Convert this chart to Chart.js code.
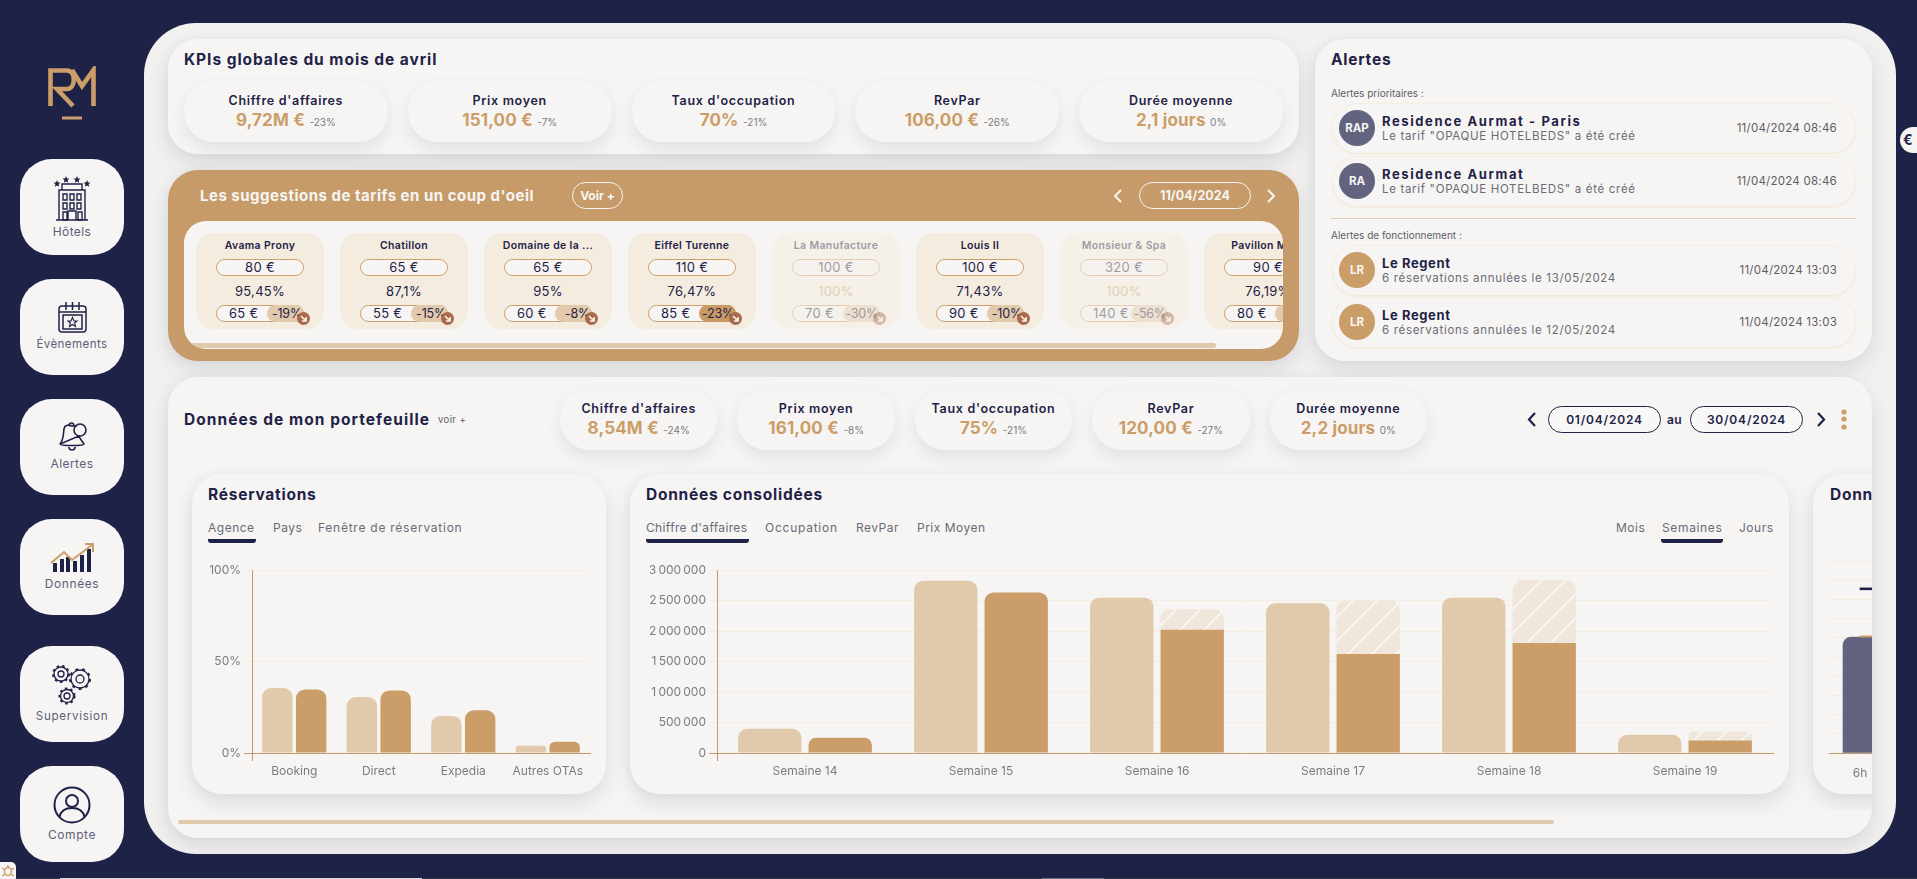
<!DOCTYPE html>
<html lang="fr">
<head>
<meta charset="utf-8">
<title>Tableau de bord</title>
<script src="https://cdn.jsdelivr.net/npm/chart.js@4/dist/chart.umd.min.js"></script>
<style>
    * { box-sizing: border-box; margin: 0; padding: 0; }
    html, body { width: 1917px; height: 879px; overflow: hidden; background: #1f2247; }
    body { font-family: Inter, "Noto Sans", sans-serif; color: #1f2247; position: relative; }
    .abs { position: absolute; }
    .panel { position: absolute; left: 144px; top: 23px; width: 1752px; height: 831px; background: #f2f1f0; border-radius: 52px; }
    .card { position: absolute; background: #f6f5f3; border-radius: 30px; box-shadow: 0 9px 20px rgba(60, 60, 85, .13), -3px 0 10px rgba(60, 60, 85, .03); }
    .title { position: absolute; font-weight: 700; font-size: 15.5px; letter-spacing: .75px; white-space: nowrap; line-height: 18px; }
    .nav { position: absolute; left: 20px; width: 104px; height: 96px; background: #f6f5f3; border-radius: 32px; text-align: center; }
    .nav svg { position: absolute; left: 0; top: 0; }
    .nav span { position: absolute; left: 0; right: 0; font-size: 12px; color: #5d5e78; letter-spacing: .4px; line-height: 14px; }
    .pills { position: absolute; display: flex; gap: 20px; height: 61px; }
    .pill { flex: 1; background: #f6f5f3; border-radius: 30px; text-align: center; box-shadow: 0 7px 16px rgba(60, 60, 85, .1); padding-top: 11px; }
    .pill b { display: block; font-size: 12.5px; font-weight: 600; letter-spacing: .7px; line-height: 17px; }
    .pill strong { font-size: 17px; font-weight: 700; color: #cb9e69; line-height: 22px; letter-spacing: .15px; }
    .pill small { font-size: 10px; color: #7b7b86; }
    .outline { position: absolute; border-radius: 14px; text-align: center; white-space: nowrap; }
    .hotel { width: 128px; height: 96px; flex: none; background: #f3ecdf; border-radius: 18px; position: relative; text-align: center; font-size: 13px; font-weight: 400; letter-spacing: .3px; }
    .hotel.faded > * { opacity: .42; }
    .hotel.faded { background: #f5f1e9; }
    .hotel .name { position: absolute; left: 0; right: 0; top: 6px; font-size: 10.5px; font-weight: 600; line-height: 14px; white-space: nowrap; letter-spacing: .35px; }
    .hotel .price { position: absolute; left: 20px; width: 88px; top: 26px; height: 17px; line-height: 15px; background: #f6f5f3; border: 1px solid #cf9f6b; border-radius: 9px; }
    .hotel .occ { position: absolute; left: 0; right: 0; top: 50px; line-height: 17px; }
    .hotel .sugg { position: absolute; left: 20px; width: 88px; top: 72px; height: 17px; line-height: 15px; background: #f6f5f3; border: 1px solid #cf9f6b; border-radius: 9px; text-align: left; }
    .hotel .sugg i { font-style: normal; position: absolute; left: 12px; }
    .hotel .sugg em { font-style: normal; position: absolute; right: -1px; top: -1px; width: 37px; height: 17px; line-height: 17px; background: #e3c9ab; border-radius: 9px; text-align: right; padding-right: 2px; font-size: 12.5px; letter-spacing: -.2px; }
    .hotel .sugg em.strong { background: #c99a63; }
    .hotel .arrow { position: absolute; left: 101px; top: 79px; width: 13px; height: 13px; border-radius: 50%; background: #a9694a; }
    .alert-title { position: absolute; left: 1331px; font-size: 10px; color: #5d5e68; line-height: 12px; }
    .alert { position: absolute; left: 1333px; width: 522px; height: 49px; background: #f6f5f3; border-radius: 24px; box-shadow: 0 1px 3px #f3e6d2, 0 0 0 1px #f5efe4; }
    .alert .avatar { position: absolute; left: 6px; top: 6px; width: 36px; height: 36px; border-radius: 50%; color: #f6f5f3; font-size: 11.5px; font-weight: 700; line-height: 36px; text-align: center; }
    .alert b { position: absolute; left: 49px; top: 10px; font-size: 13px; font-weight: 700; letter-spacing: .6px; line-height: 15px; white-space: nowrap; }
    .alert b.long { letter-spacing: 1.6px; }
    .alert span { position: absolute; left: 49px; top: 25px; font-size: 11.5px; color: #6a6b78; letter-spacing: .68px; line-height: 15px; white-space: nowrap; }
    .alert time { position: absolute; right: 18px; top: 17px; font-size: 11.5px; color: #5d5e68; letter-spacing: .25px; line-height: 15px; }
    .tab { position: absolute; top: 520px; font-size: 12px; color: #6a6b78; letter-spacing: .5px; line-height: 16px; white-space: nowrap; }
    .line { position: absolute; height: 4px; top: 539px; background: #1f2247; border-radius: 0 0 3px 3px; }
    .chart { position: absolute; }
</style>
</head>
<body>
<div class="panel"></div>

<!-- Logo -->
<svg class="abs" style="left:46px;top:66px" width="54" height="56" viewBox="0 0 54 56" fill="none" stroke="#cb9e69" stroke-width="4.6">
    <path d="M4.5 40V4.5H21C30 4.5 30 23 21 23H11L27 40"/>
    <path d="M26 4L36 20L47.5 4V40" />
    <path d="M16 52H36" stroke-width="3"/>
</svg>

<!-- Menu -->
<div class="nav" style="top:159px">
    <svg width="104" height="66" viewBox="0 0 104 66" fill="none" stroke="#1f2247" stroke-width="1.4">
        <path d="M36 61H68M39 61V31H65V61M42 31V25H62V31"/>
        <path d="M43 35h4v6h-4zM50 35h4v6h-4zM57 35h4v6h-4zM43 44h4v6h-4zM50 44h4v6h-4zM57 44h4v6h-4zM43 53h4v8h-4zM48 61V52h8v9M58 53h4v8h-4z"/>
        <g fill="#1f2247" stroke="none"><path d="M37 21l1 2.4 2.5.2-1.9 1.6.6 2.5-2.2-1.3-2.2 1.3.6-2.5-1.9-1.6 2.5-.2zM46 17l1 2.4 2.5.2-1.9 1.6.6 2.5-2.2-1.3-2.2 1.3.6-2.5-1.9-1.6 2.5-.2zM57 17l1 2.4 2.5.2-1.9 1.6.6 2.5-2.2-1.3-2.2 1.3.6-2.5-1.9-1.6 2.5-.2zM67 21l1 2.4 2.5.2-1.9 1.6.6 2.5-2.2-1.3-2.2 1.3.6-2.5-1.9-1.6 2.5-.2z"/></g>
    </svg>
    <span style="top:66px">Hôtels</span>
</div>
<div class="nav" style="top:279px">
    <svg width="104" height="60" viewBox="0 0 104 60" fill="none" stroke="#1f2247" stroke-width="1.5">
        <rect x="39" y="27" width="27" height="26" rx="3"/>
        <path d="M39 33H66M46 23V31M52.5 23V31M59 23V31"/>
        <rect x="43" y="36" width="19" height="14"/>
        <path d="M52.5 38.5L54 42H57L54.6 44L55.5 47.5L52.5 45.5L49.5 47.5L50.4 44L48 42H51Z" stroke-width="1.1"/>
    </svg>
    <span style="top:58px;font-size:11.6px">Évènements</span>
</div>
<div class="nav" style="top:399px">
    <svg width="104" height="60" viewBox="0 0 104 60" fill="none" stroke="#1f2247" stroke-width="1.6">
        <path d="M40 45C44 40 43 36 44 30C45 24 50 27 53 27C55 27 56 27 57 27M59 37C60 40 62 42 64 45C64 47 40 47 40 45ZM49 48C49 52 55 52 55 48M49 27C49 23 54 23 54 27"/>
        <circle cx="60" cy="31" r="6"/>
    </svg>
    <span style="top:58px">Alertes</span>
</div>
<div class="nav" style="top:519px">
    <svg width="104" height="60" viewBox="0 0 104 60">
        <g fill="#1f2247"><rect x="33" y="44" width="4" height="9"/><rect x="40" y="40" width="4" height="13"/><rect x="46" y="38" width="4" height="15"/><rect x="53" y="42" width="4" height="11"/><rect x="60" y="36" width="4" height="17"/><rect x="67" y="30" width="4" height="23"/></g>
        <path d="M31 44L44 33L52 41L72 26M65 25H73V33" fill="none" stroke="#cb9e69" stroke-width="2"/>
    </svg>
    <span style="top:58px;letter-spacing:.6px">Données</span>
</div>
<div class="nav" style="top:646px">
    <svg width="104" height="60" viewBox="0 0 104 60" fill="none" stroke="#1f2247" stroke-width="1.3">
        <circle cx="41" cy="28" r="3"/><circle cx="41" cy="28" r="7"/><circle cx="41" cy="28" r="8" stroke-width="2" stroke-dasharray="2.5 3"/>
        <circle cx="60" cy="33" r="4"/><circle cx="60" cy="33" r="9"/><circle cx="60" cy="33" r="10" stroke-width="2" stroke-dasharray="3 4"/>
        <circle cx="47" cy="50" r="3"/><circle cx="47" cy="50" r="6.5"/><circle cx="47" cy="50" r="7.5" stroke-width="2" stroke-dasharray="2.5 3"/>
    </svg>
    <span style="top:63px;font-size:11.6px;letter-spacing:.7px">Supervision</span>
</div>
<div class="nav" style="top:766px">
    <svg width="104" height="60" viewBox="0 0 104 60" fill="none" stroke="#1f2247" stroke-width="2">
        <circle cx="52" cy="39" r="17.5"/><circle cx="52" cy="35" r="6"/>
        <path d="M39.5 51C41 44 46 42 52 42C58 42 63 44 64.5 51"/>
    </svg>
    <span style="top:62px;letter-spacing:.6px">Compte</span>
</div>

<!-- KPIs globales -->
<div class="card" style="left:168px;top:39px;width:1131px;height:115px"></div>
<div class="title" style="left:184px;top:51px;letter-spacing:.95px">KPIs globales du mois de avril</div>
<div class="pills" id="kpiGlobal" style="left:184px;top:81px;width:1099px"></div>

<!-- Suggestions -->
<div class="card" style="left:168px;top:170px;width:1131px;height:191px;background:#c69b69"></div>
<div class="title" style="left:200px;top:187px;color:#f6f5f3;font-size:15px;letter-spacing:.5px">Les suggestions de tarifs en un coup d'oeil</div>
<div class="outline" style="left:572px;top:182px;width:51px;height:27px;border:1px solid #f6f5f3;color:#f6f5f3;font-size:12px;font-weight:700;line-height:25px">Voir +</div>
<svg class="abs" style="left:1112px;top:188px" width="14" height="16" fill="none" stroke="#f6f5f3" stroke-width="2"><path d="M9 2L3 8L9 14"/></svg>
<div class="outline" style="left:1139px;top:182px;width:112px;height:27px;border:1px solid #f6f5f3;color:#f6f5f3;font-size:12.5px;font-weight:700;line-height:25px">11/04/2024</div>
<svg class="abs" style="left:1264px;top:188px" width="14" height="16" fill="none" stroke="#f6f5f3" stroke-width="2"><path d="M4 2L10 8L4 14"/></svg>
<div class="abs" style="left:184px;top:221px;width:1099px;height:128px;background:#f6f5f3;border-radius:22px;overflow:hidden">
    <div id="hotels" class="abs" style="left:12px;top:12px;display:flex;gap:16px"></div>
    <div class="abs" style="left:-6px;top:122px;width:1038px;height:5px;background:#e1c9ac;border-radius:3px"></div>
</div>

<!-- Alertes -->
<div class="card" style="left:1315px;top:39px;width:557px;height:322px"></div>
<div class="title" style="left:1331px;top:51px">Alertes</div>
<div class="alert-title" style="top:87px">Alertes prioritaires :</div>
<div id="alertsTop"></div>
<div class="abs" style="left:1331px;top:218px;width:525px;height:1px;background:#e1c9ac"></div>
<div class="alert-title" style="top:229px">Alertes de fonctionnement :</div>
<div id="alertsBottom"></div>

<!-- Portefeuille -->
<div class="card" style="left:168px;top:377px;width:1704px;height:461px"></div>
<div class="title" style="left:184px;top:411px;letter-spacing:1.05px">Données de mon portefeuille</div>
<div class="abs" style="left:438px;top:414px;font-size:9.5px;color:#5d5e68;letter-spacing:.4px">voir +</div>
<div class="pills" id="kpiFolio" style="left:560px;top:389px;width:867px"></div>
<svg class="abs" style="left:1525px;top:411px" width="14" height="17" fill="none" stroke="#1f2247" stroke-width="2.2"><path d="M10 2L4 8.5L10 15"/></svg>
<div class="outline" style="left:1548px;top:406px;width:113px;height:27px;border:1px solid #1f2247;background:#f8f8f7;font-size:12px;font-weight:600;letter-spacing:.8px;line-height:25px">01/04/2024</div>
<div class="abs" style="left:1667px;top:412px;font-size:12px;font-weight:600;letter-spacing:.4px;line-height:15px">au</div>
<div class="outline" style="left:1690px;top:406px;width:113px;height:27px;border:1px solid #1f2247;background:#f8f8f7;font-size:12px;font-weight:600;letter-spacing:.8px;line-height:25px">30/04/2024</div>
<svg class="abs" style="left:1814px;top:411px" width="14" height="17" fill="none" stroke="#1f2247" stroke-width="2.2"><path d="M4 2L10 8.5L4 15"/></svg>
<svg class="abs" style="left:1841px;top:408px" width="6" height="22" fill="#cb9e69"><circle cx="3" cy="4" r="2.6"/><circle cx="3" cy="11" r="2.6"/><circle cx="3" cy="19" r="2.6"/></svg>

<!-- Réservations -->
<div class="card" style="left:192px;top:474px;width:414px;height:320px"></div>
<div class="title" style="left:208px;top:486px">Réservations</div>
<div class="tab" style="left:208px">Agence</div>
<div class="tab" style="left:273px">Pays</div>
<div class="tab" style="left:318px;letter-spacing:.75px">Fenêtre de réservation</div>
<div class="line" style="left:208px;width:48px"></div>
<div class="chart" style="left:200px;top:560px;width:400px;height:225px"><canvas id="reservations"></canvas></div>

<!-- Données consolidées -->
<div class="card" style="left:630px;top:474px;width:1159px;height:320px"></div>
<div class="title" style="left:646px;top:486px">Données consolidées</div>
<div class="tab" style="left:646px;letter-spacing:.35px">Chiffre d'affaires</div>
<div class="tab" style="left:765px;letter-spacing:.75px">Occupation</div>
<div class="tab" style="left:856px">RevPar</div>
<div class="tab" style="left:917px">Prix Moyen</div>
<div class="line" style="left:646px;width:103px"></div>
<div class="tab" style="left:1616px">Mois</div>
<div class="tab" style="left:1662px;letter-spacing:.65px">Semaines</div>
<div class="tab" style="left:1739px">Jours</div>
<div class="line" style="left:1661px;width:62px"></div>
<div class="chart" style="left:650px;top:560px;width:1133px;height:225px"><canvas id="consolidees"></canvas></div>

<!-- Carte suivante coupée par le défilement -->
<div class="abs" style="left:1795px;top:460px;width:77px;height:350px;overflow:hidden">
    <div class="card" style="left:18px;top:14px;width:300px;height:320px"></div>
    <div class="title" style="left:35px;top:26px">Données</div>
    <div class="chart" style="left:34px;top:92px;width:62px;height:233px"><canvas id="horaires"></canvas></div>
</div>

<div class="abs" style="left:178px;top:820px;width:1376px;height:4px;background:#e1c9ac;border-radius:2px"></div>

<div class="abs" style="left:1900px;top:127px;width:30px;height:26px;background:#f6f5f3;border-radius:13px;font-size:14px;font-weight:700;line-height:26px;padding-left:3px">€</div>
<div class="abs" style="left:0;top:862px;width:16px;height:17px;background:#f6f5f3;border-radius:0 5px 0 0">
    <svg width="16" height="17" fill="none" stroke="#cb9e69" stroke-width="1.4"><ellipse cx="8" cy="9.5" rx="3.5" ry="4"/><path d="M8 3V5M2 6L5 8M14 6L11 8M2 14L5 12M14 14L11 12"/></svg>
</div>
<div class="abs" style="left:16px;top:878px;width:1901px;height:1px;background:#33354f"></div>
<div class="abs" style="left:60px;top:878px;width:362px;height:1px;background:#d9d8e0"></div>
<div class="abs" style="left:1042px;top:878px;width:62px;height:1px;background:#6d6e84"></div>

<script>
// KPI
const kpiLabels = ["Chiffre d'affaires", 'Prix moyen', "Taux d'occupation", 'RevPar', 'Durée moyenne'];
const kpiGlobalValues = ['9,72M €', '151,00 €', '70%', '106,00 €', '2,1 jours'];
const kpiGlobalDeltas = ['-23%', '-7%', '-21%', '-26%', '0%'];
const kpiFolioValues = ['8,54M €', '161,00 €', '75%', '120,00 €', '2,2 jours'];
const kpiFolioDeltas = ['-24%', '-8%', '-21%', '-27%', '0%'];

// Suggestions de tarifs
const hotelNames = ['Avama Prony', 'Chatillon', 'Domaine de la ...', 'Eiffel Turenne', 'La Manufacture', 'Louis II', 'Monsieur & Spa', 'Pavillon Mo...'];
const hotelPrices = ['80 €', '65 €', '65 €', '110 €', '100 €', '100 €', '320 €', '90 €'];
const hotelOccupancy = ['95,45%', '87,1%', '95%', '76,47%', '100%', '71,43%', '100%', '76,19%'];
const hotelSuggested = ['65 €', '55 €', '60 €', '85 €', '70 €', '90 €', '140 €', '80 €'];
const hotelDeltas = ['-19%', '-15%', '-8%', '-23%', '-30%', '-10%', '-56%', '-11%'];
const hotelFaded = [false, false, false, false, true, false, true, false];

// Alertes
const alertInitials = ['RAP', 'RA', 'LR', 'LR'];
const alertNames = ['Residence Aurmat - Paris', 'Residence Aurmat', 'Le Regent', 'Le Regent'];
const alertTexts = ['Le tarif "OPAQUE HOTELBEDS" a été créé', 'Le tarif "OPAQUE HOTELBEDS" a été créé', '6 réservations annulées le 13/05/2024', '6 réservations annulées le 12/05/2024'];
const alertDates = ['11/04/2024 08:46', '11/04/2024 08:46', '11/04/2024 13:03', '11/04/2024 13:03'];

// Réservations
const agences = ['Booking', 'Direct', 'Expedia', 'Autres OTAs'];
const agencesN1 = [35.5, 30.6, 20.3, 4];
const agencesN = [34.8, 34.2, 23.4, 6.2];

// Données consolidées
const semaines = ['Semaine 14', 'Semaine 15', 'Semaine 16', 'Semaine 17', 'Semaine 18', 'Semaine 19'];
const caN1 = [397000, 2826000, 2549000, 2457000, 2549000, 299000];
const caRealise = [250000, 2636000, 2022000, 1625000, 1804000, 206000];
const caPrevision = [0, 0, 337000, 875000, 1038000, 147000];

// Données horaires (seule la première tranche est visible)
const tranches = ['6h'];
const trancheN1 = [60.4];
const trancheN = [60];
const trancheRepere = [1];
const trancheEcart = [24];
const trancheMax = [1];

const tan = '#cb9e69';
const lightTan = '#e1c9ac';
const axisTan = '#c49a68';
const gridColor = '#f5eddd';
const slate = '#62637f';
const tickColor = '#7b7b86';

const kpiHtml = (values, deltas) => kpiLabels.map((label, i) =>
    `<div class="pill"><b>${label}</b><strong>${values[i]}</strong> <small>${deltas[i]}</small></div>`).join('');
document.getElementById('kpiGlobal').innerHTML = kpiHtml(kpiGlobalValues, kpiGlobalDeltas);
document.getElementById('kpiFolio').innerHTML = kpiHtml(kpiFolioValues, kpiFolioDeltas);

document.getElementById('hotels').innerHTML = hotelNames.map((name, i) => `
    <div class="hotel${hotelFaded[i] ? ' faded' : ''}">
        <div class="name">${name}</div>
        <div class="price">${hotelPrices[i]}</div>
        <div class="occ"${hotelFaded[i] ? ' style="color:#cb9e69"' : ''}>${hotelOccupancy[i]}</div>
        <div class="sugg"><i>${hotelSuggested[i]}</i><em${name === 'Eiffel Turenne' ? ' class="strong"' : ''}>${hotelDeltas[i]}</em></div>
        <div class="arrow"><svg width="13" height="13" fill="none" stroke="#f6f5f3" stroke-width="1.6"><path d="M4 4L9 9M9 5V9H5"/></svg></div>
    </div>`).join('');

const alertHtml = (i, top, color) => `
    <div class="alert" style="top:${top}px">
        <div class="avatar" style="background:${color}">${alertInitials[i]}</div>
        <b${alertNames[i].startsWith('Residence') ? ' class="long"' : ''}>${alertNames[i]}</b><span>${alertTexts[i]}</span><time>${alertDates[i]}</time>
    </div>`;
document.getElementById('alertsTop').innerHTML = alertHtml(0, 104, slate) + alertHtml(1, 157, slate);
document.getElementById('alertsBottom').innerHTML = alertHtml(2, 246, tan) + alertHtml(3, 298, tan);

// Motif hachuré pour la part prévisionnelle
const hatch = () => {
    const tile = document.createElement('canvas');
    tile.width = tile.height = 24;
    const c = tile.getContext('2d');
    c.fillStyle = '#f0e6dc';
    c.fillRect(0, 0, 24, 24);
    c.strokeStyle = '#f9f7f4';
    c.lineWidth = 1.6;
    c.beginPath();
    c.moveTo(-6, 30); c.lineTo(30, -6);
    c.moveTo(-6, 6); c.lineTo(6, -6);
    c.moveTo(18, 30); c.lineTo(30, 18);
    c.stroke();
    return c.createPattern(tile, 'repeat');
};

Chart.defaults.font.family = 'Inter, "Noto Sans", sans-serif';
Chart.defaults.font.size = 12;
Chart.defaults.color = tickColor;
Chart.defaults.animation = false;
Chart.defaults.plugins.legend.display = false;
Chart.defaults.plugins.tooltip.enabled = false;
Chart.defaults.responsive = true;
Chart.defaults.maintainAspectRatio = false;

const topRadius = { topLeft: 9, topRight: 9, bottomLeft: 0, bottomRight: 0 };

const xAxis = (stacked) => ({
    stacked: stacked,
    border: { color: axisTan, width: 1 },
    grid: {
        drawOnChartArea: false,
        tickLength: 8,
        tickColor: (ctx) => ctx.index === 0 ? axisTan : 'transparent'
    },
    ticks: { padding: 3, maxRotation: 0 },
    afterFit: (scale) => { scale.height = 32; }
});

const yAxis = (width, max, step, format, stacked) => ({
    stacked: stacked,
    min: 0,
    max: max,
    border: { color: axisTan, width: 1 },
    grid: {
        color: gridColor,
        tickLength: 8,
        tickColor: (ctx) => ctx.tick.value === 0 ? axisTan : gridColor
    },
    ticks: { stepSize: step, padding: 3, callback: format },
    afterFit: (scale) => { scale.width = width; }
});

new Chart(document.getElementById('reservations'), {
    type: 'bar',
    data: {
        labels: agences,
        datasets: [
            { label: 'N-1', data: agencesN1, backgroundColor: lightTan, borderRadius: topRadius },
            { label: 'N', data: agencesN, backgroundColor: tan, borderRadius: topRadius }
        ]
    },
    options: {
        layout: { padding: { top: 9.5, right: 10 } },
        scales: {
            x: xAxis(false),
            y: yAxis(52, 100, 50, (v) => v + '%', false)
        }
    }
});

new Chart(document.getElementById('consolidees'), {
    type: 'bar',
    data: {
        labels: semaines,
        datasets: [
            { label: 'N-1', stack: 'n1', data: caN1, backgroundColor: lightTan, borderRadius: topRadius, borderSkipped: false },
            {
                label: 'Réalisé', stack: 'n', data: caRealise, backgroundColor: tan, borderSkipped: false,
                borderRadius: (ctx) => caPrevision[ctx.dataIndex] ? 0 : topRadius
            },
            { label: 'Prévision', stack: 'n', data: caPrevision, backgroundColor: hatch(), borderRadius: topRadius, borderSkipped: false }
        ]
    },
    options: {
        layout: { padding: { top: 9.5, right: 10 } },
        scales: {
            x: xAxis(true),
            y: yAxis(67, 3000000, 500000, (v) => v.toLocaleString('fr-FR'), true)
        }
    }
});

new Chart(document.getElementById('horaires'), {
    type: 'bar',
    data: {
        labels: tranches,
        datasets: [
            { label: 'N-1', stack: 'a', data: trancheN1, backgroundColor: slate, barThickness: 17, borderRadius: { topLeft: 9, topRight: 0, bottomLeft: 0, bottomRight: 0 }, borderSkipped: false },
            { label: 'N', stack: 'b', data: trancheN, backgroundColor: slate, barThickness: 17 },
            { label: 'Repère', stack: 'b', data: trancheRepere, backgroundColor: tan, barThickness: 17 },
            { label: 'Écart', stack: 'b', data: trancheEcart, backgroundColor: 'transparent', barThickness: 17 },
            { label: 'Max', stack: 'b', data: trancheMax, backgroundColor: '#1f2247', barThickness: 17 }
        ]
    },
    options: {
        layout: { padding: { top: 9 } },
        scales: {
            x: { stacked: true, border: { color: axisTan }, grid: { display: false }, ticks: { padding: 5 }, afterFit: (scale) => { scale.height = 32; } },
            y: { stacked: true, min: 0, max: 100, border: { display: false }, grid: { color: gridColor, drawTicks: false }, ticks: { display: false, stepSize: 10 }, afterFit: (scale) => { scale.width = 0; } }
        }
    }
});
</script>
</body>
</html>
